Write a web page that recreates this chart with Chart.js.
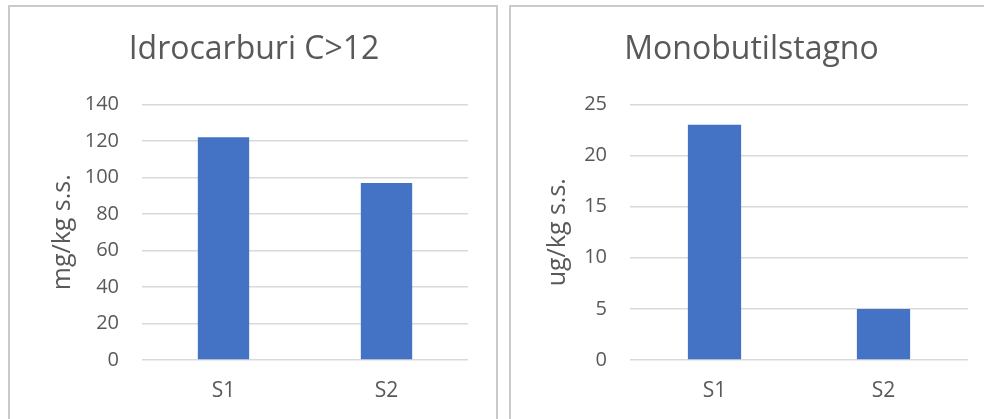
<!DOCTYPE html>
<html><head><meta charset="utf-8">
<script src="https://cdn.jsdelivr.net/npm/chart.js@4/dist/chart.umd.min.js"></script>
<style>
html,body{margin:0;padding:0;background:#fff;overflow:hidden;width:984px;height:419px;}
.box{position:absolute;top:5px;border:2px solid #cacaca;background:#fff;}
canvas{display:block;}
</style></head>
<body>
<div class="box" id="b1" style="left:8px;width:486px;height:420px;"><canvas id="c1" width="486" height="413"></canvas></div>
<div class="box" id="b2" style="left:509px;width:486px;height:420px;"><canvas id="c2" width="486" height="413"></canvas></div>
<script>
const categories = ["S1", "S2"];
const idrocarburiValues = [122, 97];
const monobutilstagnoValues = [23, 5];
const idrocarburiTicks = [0, 20, 40, 60, 80, 100, 120, 140];
const monobutilstagnoTicks = [0, 5, 10, 15, 20, 25];
const titles = ["Idrocarburi C>12", "Monobutilstagno"];
const yTitles = ["mg/kg s.s.", "ug/kg s.s."];

const FONT = "'Open Sans', sans-serif";
const GREY = "#595959";

function makeChart(id, title, yTitle, values, ticks, opt) {
  new Chart(document.getElementById(id), {
    type: "bar",
    data: {
      labels: categories,
      datasets: [{ data: values, backgroundColor: "#4472C4", borderWidth: 0,
        categoryPercentage: 1, barPercentage: 0.315 }]
    },
    options: {
      responsive: false, animation: false, devicePixelRatio: 1,
      layout: { padding: { left: opt.padLeft, right: opt.padRight, top: 0, bottom: 15 } },
      plugins: {
        legend: { display: false }, tooltip: { enabled: false },
        title: { display: true, text: title, color: GREY,
          font: { family: FONT, size: 32, weight: "normal" }, padding: { top: 24, bottom: 35 } }
      },
      scales: {
        x: {
          afterFit: (axis) => { axis.height = 45; },
          grid: { display: false, drawTicks: false },
          border: { display: false },
          ticks: { color: GREY, font: { family: FONT, size: 21 }, padding: 18 },
        },
        y: {
          min: ticks[0], max: ticks[ticks.length - 1],
          afterBuildTicks: (axis) => { axis.ticks = ticks.map(v => ({ value: v })); },
          afterFit: (axis) => { axis.width = opt.yWidth; },
          grid: { color: "#d9d9d9", lineWidth: 1.5, drawTicks: false, tickLength: 0 },
          border: { display: false },
          ticks: { color: GREY, font: { family: FONT, size: 20 }, padding: 23 },
          title: { display: true, text: yTitle, color: GREY,
            font: { family: FONT, size: 25, weight: "normal" }, padding: { top: opt.yTitlePad, bottom: 0 } }
        }
      }
    }
  });
}

makeChart("c1", titles[0], yTitles[0], idrocarburiValues, idrocarburiTicks,
  { padLeft: 30, padRight: 28, yWidth: 102, yTitlePad: 8 });
makeChart("c2", titles[1], yTitles[1], monobutilstagnoValues, monobutilstagnoTicks,
  { padLeft: 24, padRight: 29, yWidth: 95, yTitlePad: 8 });
</script>
</body></html>
